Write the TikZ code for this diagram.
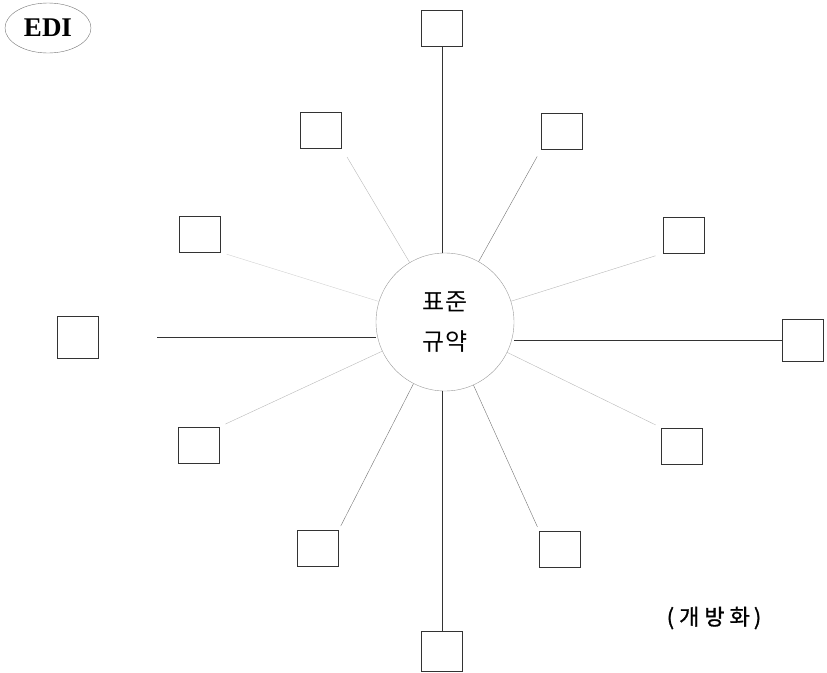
\documentclass[tikz,border=0pt]{standalone}
\usepackage{fontspec}
\setmainfont{Liberation Serif}
\newfontfamily\kofont{Noto Sans CJK KR}
\newfontfamily\kobold[FakeBold=1]{Noto Sans CJK KR}
\usetikzlibrary{shapes.geometric}

\begin{document}
\begin{tikzpicture}[x=1pt,y=-1pt,
 every node/.style={align=center},
 box/.style={draw=black!80,thick,minimum width=41pt,minimum height=36pt,inner sep=0pt},
 hub/.style={circle,draw=black!40,minimum size=138pt,inner sep=0pt},
 spoke/.style={black!80,thick},
 thinspoke/.style={black!55},
 faint/.style={black!28}
]
\useasboundingbox (0,0) rectangle (827,672);
\node[ellipse,draw=black!55,minimum width=86pt,minimum height=50pt,font=\bfseries\fontsize{27}{30}\selectfont] (edi) at (48,28) {EDI};
\node[hub,font=\kofont\fontsize{24}{40}\selectfont] (std) at (445,322) {표준\\규약};
% surrounding boxes
\node[box] (n) at (442,28) {};
\node[box] (nw) at (321,130) {};
\node[box] (ne) at (562,131) {};
\node[box] (wnw) at (200,234) {};
\node[box] (ene) at (684,235) {};
\node[box,minimum height=42pt] (w) at (78,337) {};
\node[box,minimum height=42pt] (e) at (803,340) {};
\node[box] (wsw) at (199,445) {};
\node[box] (ese) at (682,446) {};
\node[box] (sw) at (318,548) {};
\node[box] (se) at (560,549) {};
\node[box,minimum height=40pt] (s) at (442,651) {};
\node[font=\kobold\fontsize{22}{24}\selectfont] (open) at (714,618) {(\kern5pt 개\kern5pt 방\kern5pt 화\kern4pt)};
% spokes
\draw[spoke] (n) -- (n |- std.north);
\draw[spoke] (s) -- (s |- std.south);
\draw[spoke] (std.east |- e.west) -- (e.west);
\draw[spoke,shorten >=58pt] (std.west |- w.east) -- (w.east);
\draw[thinspoke,shorten >=8pt] (std) -- (ne.south west);
\draw[thinspoke,shorten >=4pt] (std) -- (se.north west);
\draw[thinspoke,shorten >=4pt] (std) -- (sw.north east);
\draw[faint,shorten >=8pt] (std) -- (ene.south west);
\draw[faint,shorten >=6pt] (std) -- (ese.north west);
\draw[faint,shorten >=6pt] (std) -- (wsw.north east);
\draw[faint,shorten >=10pt] (std) -- (nw.south east);
\draw[faint,black!18,shorten >=6pt] (std) -- (wnw.south east);
\end{tikzpicture}
\end{document}
